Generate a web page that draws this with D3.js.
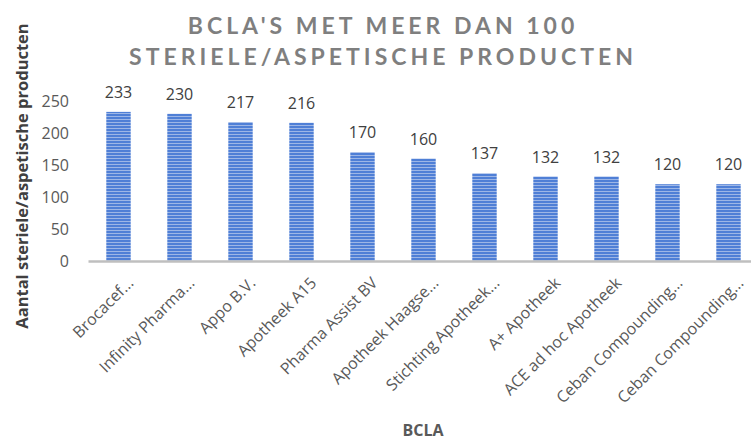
<!DOCTYPE html>
<html>
<head>
<meta charset="utf-8">
<script src="https://cdn.jsdelivr.net/npm/d3@7"></script>
<style>
  body { margin: 0; background: #fff; }
  text { font-family: "Open Sans", sans-serif; }
</style>
</head>
<body>
<div class="fig"></div>
<script>
var categories = ["Brocacef...", "Infinity Pharma...", "Appo B.V.", "Apotheek A15", "Pharma Assist BV",
  "Apotheek Haagse...", "Stichting Apotheek...", "A+ Apotheek", "ACE ad hoc Apotheek",
  "Ceban Compounding...", "Ceban Compounding..."];
var values = [233, 230, 217, 216, 170, 160, 137, 132, 132, 120, 120];
var yTicks = [0, 50, 100, 150, 200, 250];

var data = categories.map(function(c, i) { return { key: i, name: c, value: values[i] }; });

var svg = d3.select(".fig").append("svg")
    .attr("width", 751)
    .attr("height", 443);

var defs = svg.append("defs");
var pat = defs.append("pattern")
    .attr("id", "stripes")
    .attr("patternUnits", "userSpaceOnUse")
    .attr("width", 10).attr("height", 3);
pat.append("rect").attr("width", 10).attr("height", 3).attr("fill", "#4f7fd6");
pat.append("rect").attr("y", 2).attr("width", 10).attr("height", 1).attr("fill", "#9db6e6");

var x = d3.scaleBand()
    .domain(data.map(function(d) { return d.key; }))
    .range([88, 759])
    .paddingInner(0.6)
    .paddingOuter(0.3);

var y = d3.scaleLinear()
    .domain([0, 250])
    .range([261, 101]);

// title
var title = svg.append("text")
    .attr("text-anchor", "middle")
    .attr("fill", "#7f7f7f")
    .style("font-family", "Lato, sans-serif")
    .style("font-weight", "bold")
    .style("font-size", "23px")
    .style("letter-spacing", "4px");
title.append("tspan").attr("x", 383).attr("y", 34).text("BCLA'S MET MEER DAN 100");
title.append("tspan").attr("x", 383).attr("y", 65).text("STERIELE/ASPETISCHE PRODUCTEN");

// y axis labels (no line)
var yAxis = svg.append("g")
    .attr("transform", "translate(69,0)")
    .call(d3.axisLeft(y).tickValues(yTicks).tickSize(0).tickPadding(0));
yAxis.select(".domain").remove();
yAxis.selectAll("text")
    .style("font-family", "Open Sans, sans-serif")
    .style("font-size", "16px")
    .attr("fill", "#595959");

// bars
svg.selectAll("rect.bar")
    .data(data)
    .enter().append("rect")
    .attr("class", "bar")
    .attr("x", function(d) { return x(d.key); })
    .attr("y", function(d) { return y(d.value); })
    .attr("width", x.bandwidth())
    .attr("height", function(d) { return y(0) - y(d.value); })
    .attr("fill", "url(#stripes)");

// value labels
svg.selectAll("text.val")
    .data(data)
    .enter().append("text")
    .attr("class", "val")
    .attr("x", function(d) { return x(d.key) + x.bandwidth() / 2; })
    .attr("y", function(d) { return y(d.value) - 14; })
    .attr("text-anchor", "middle")
    .attr("fill", "#404040")
    .style("font-size", "16px")
    .text(function(d) { return d.value; });

// x axis
var xAxis = svg.append("g")
    .attr("transform", "translate(0," + y(0) + ")")
    .call(d3.axisBottom(x).tickSize(0).tickPadding(0).tickFormat(function(k) { return categories[k]; }));
xAxis.select(".domain")
    .attr("stroke", "#bfbfbf")
    .attr("stroke-width", 2.5);
xAxis.selectAll("text")
    .style("font-family", "Open Sans, sans-serif")
    .style("font-size", "16px")
    .attr("fill", "#595959")
    .attr("text-anchor", "end")
    .attr("dy", "0.35em")
    .attr("transform", "translate(12,19) rotate(-45)");

// axis titles
svg.append("text")
    .attr("x", 423)
    .attr("y", 436)
    .attr("text-anchor", "middle")
    .attr("fill", "#595959")
    .style("font-weight", "bold")
    .style("font-size", "16px")
    .text("BCLA");

svg.append("text")
    .attr("transform", "translate(28,176) rotate(-90)")
    .attr("text-anchor", "middle")
    .attr("fill", "#404040")
    .style("font-weight", "bold")
    .style("font-size", "16.5px")
    .text("Aantal steriele/aspetische producten");
</script>
</body>
</html>
